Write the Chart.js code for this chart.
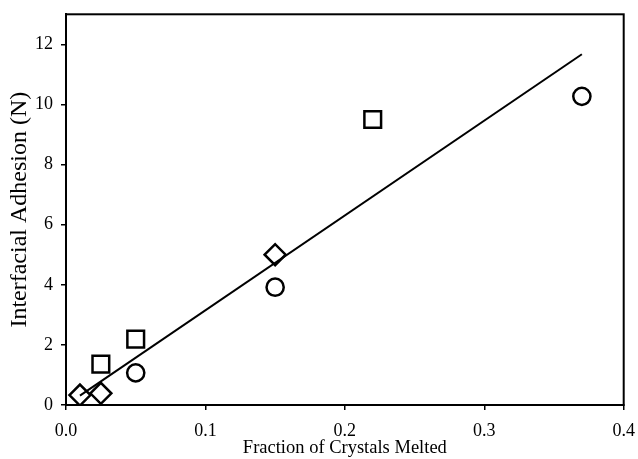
<!DOCTYPE html>
<html>
<head>
<meta charset="utf-8">
<script src="https://cdn.jsdelivr.net/npm/chart.js@4.4.0/dist/chart.umd.min.js"></script>
<style>
  html, body { margin: 0; padding: 0; background: #fff; }
  #wrap { width: 638px; height: 459px; }
</style>
</head>
<body>
<div id="wrap"><canvas id="grafico"></canvas></div>
<script>
// datos
const diamanteX = [0.01, 0.025, 0.15];
const diamanteY = [0.33, 0.39, 5.0];
const cuadradoX = [0.025, 0.05, 0.22];
const cuadradoY = [1.36, 2.19, 9.5];
const circuloX = [0.05, 0.15, 0.37];
const circuloY = [1.07, 3.92, 10.27];
const lineaX = [0.01, 0.37];
const lineaY = [0.31, 11.67];
const ticksX = [0, 0.1, 0.2, 0.3, 0.4];
const ticksY = [0, 2, 4, 6, 8, 10, 12];

const puntos = (xs, ys) => xs.map((x, i) => ({ x: x, y: ys[i] }));

// marco completo alrededor del area del grafico
const marco = {
    id: 'marco',
    afterDraw(chart) {
        const a = chart.chartArea;
        const c = chart.ctx;
        c.save();
        c.strokeStyle = '#000';
        c.lineWidth = 2;
        c.strokeRect(a.left, a.top, a.right - a.left, a.bottom - a.top);
        c.restore();
    }
};

const familia = "'Liberation Serif', 'Times New Roman', serif";

new Chart(document.getElementById('grafico'), {
    type: 'scatter',
    data: {
        datasets: [
            {
                type: 'line',
                data: puntos(lineaX, lineaY),
                borderColor: '#000',
                borderWidth: 2,
                pointRadius: 0,
                fill: false
            },
            {
                data: puntos(diamanteX, diamanteY),
                pointStyle: 'rectRot',
                pointRadius: 10.5,
                pointBackgroundColor: '#fff',
                pointBorderColor: '#000',
                pointBorderWidth: 2.5
            },
            {
                data: puntos(cuadradoX, cuadradoY),
                pointStyle: 'rect',
                pointRadius: 11.8,
                pointBackgroundColor: '#fff',
                pointBorderColor: '#000',
                pointBorderWidth: 2.5
            },
            {
                data: puntos(circuloX, circuloY),
                pointStyle: 'circle',
                pointRadius: 8.6,
                pointBackgroundColor: '#fff',
                pointBorderColor: '#000',
                pointBorderWidth: 2.5
            }
        ]
    },
    options: {
        responsive: true,
        maintainAspectRatio: false,
        animation: false,
        layout: { padding: { top: 14, right: 12, left: 0, bottom: 0 } },
        plugins: {
            legend: { display: false },
            tooltip: { enabled: false }
        },
        scales: {
            x: {
                type: 'linear',
                min: 0,
                max: 0.4,
                afterBuildTicks: s => { s.ticks = ticksX.map(v => ({ value: v })); },
                afterFit: s => {
                    s.height = 54;
                    s.paddingLeft = 0;
                    s.paddingRight = 0;
                },
                ticks: {
                    color: '#000',
                    font: { family: familia, size: 18 },
                    padding: 10,
                    maxRotation: 0,
                    callback: v => v.toFixed(1)
                },
                grid: { drawOnChartArea: false, drawTicks: true, tickLength: 5, color: '#000', lineWidth: 1.5 },
                border: { display: true, color: '#000', width: 2 },
                title: {
                    display: true,
                    text: 'Fraction of Crystals Melted',
                    color: '#000',
                    font: { family: familia, size: 18.5 },
                    padding: { top: 0, bottom: 0 }
                }
            },
            y: {
                type: 'linear',
                min: 0,
                max: 13,
                afterBuildTicks: s => { s.ticks = ticksY.map(v => ({ value: v })); },
                afterFit: s => {
                    s.width = 66;
                    s.paddingTop = 0;
                    s.paddingBottom = 0;
                },
                ticks: {
                    color: '#000',
                    font: { family: familia, size: 18 },
                    padding: 8
                },
                grid: { drawOnChartArea: false, drawTicks: true, tickLength: 5, color: '#000', lineWidth: 1.5 },
                border: { display: true, color: '#000', width: 2 },
                title: {
                    display: true,
                    text: 'Interfacial Adhesion (N)',
                    color: '#000',
                    font: { family: familia, size: 24 },
                    padding: { top: 5, bottom: 0 }
                }
            }
        }
    },
    plugins: [marco]
});
</script>
</body>
</html>
